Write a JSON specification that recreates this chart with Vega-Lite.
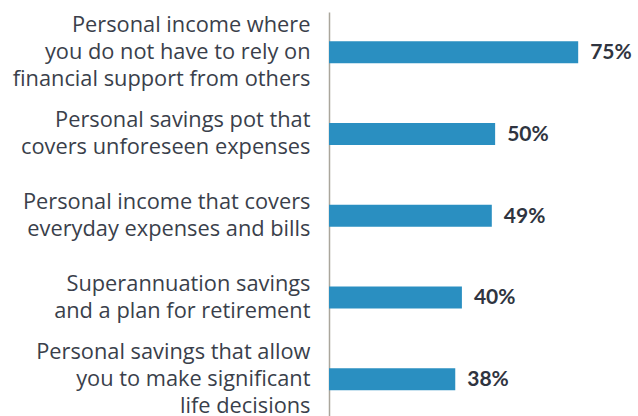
{
  "$schema": "https://vega.github.io/schema/vega-lite/v6.json",
  "width": 309,
  "height": 404,
  "autosize": {"type": "none"},
  "padding": {"left": 329, "top": 12, "right": 0, "bottom": 0},
  "background": "white",
  "config": {"view": {"stroke": null}},
  "data": {
    "values": [
      {"label": "Personal income where|you do not have to rely on|financial support from others", "value": 75},
      {"label": "Personal savings pot that|covers unforeseen expenses", "value": 50},
      {"label": "Personal income that covers|everyday expenses and bills", "value": 49},
      {"label": "Superannuation savings|and a plan for retirement", "value": 40},
      {"label": "Personal savings that allow|you to make significant|life decisions", "value": 38}
    ]
  },
  "encoding": {
    "y": {
      "field": "label",
      "type": "nominal",
      "sort": null,
      "scale": {"paddingInner": 0.731, "paddingOuter": 0.3365, "align": 0.53},
      "axis": {
        "title": null,
        "ticks": false,
        "domainColor": "#aaa69c",
        "domainWidth": 1.5,
        "labelExpr": "split(datum.label, '|')",
        "labelFont": "Open Sans",
        "labelFontSize": 21.8,
        "labelColor": "#3a3f4b",
        "labelPadding": 19,
        "labelLineHeight": 27,
        "labelLimit": 400,
        "labelBaseline": "middle",
        "labelOffset": {
          "condition": {"test": "length(split(datum.label, '|')) == 3", "value": -27},
          "value": -13.5
        }
      }
    },
    "x": {
      "field": "value",
      "type": "quantitative",
      "scale": {"domain": [0, 93], "nice": false},
      "axis": null
    }
  },
  "layer": [
    {"mark": {"type": "bar", "color": "#2a8fc1"}},
    {
      "mark": {"type": "text", "align": "left", "baseline": "middle", "dx": 12, "dy": 1, "font": "Lato", "fontSize": 21, "fontWeight": "bold", "color": "#2f3440", "text": {"expr": "datum.value + '%'"}}
    }
  ]
}
